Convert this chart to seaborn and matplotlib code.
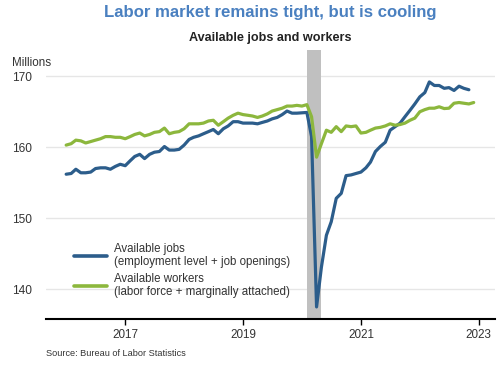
import numpy as np
import pandas as pd
import matplotlib
matplotlib.use("Agg")
import matplotlib.pyplot as plt
import seaborn as sns

# ---- data (millions), monthly Jan 2016 onward ----
start_month = "2016-01-01"
jobs = [156.2, 156.3, 156.9, 156.4, 156.4, 156.5, 157.0, 157.1, 157.1, 156.9, 157.3, 157.6,
        157.4, 158.1, 158.7, 159.0, 158.4, 159.0, 159.3, 159.4, 160.1, 159.6, 159.6, 159.7,
        160.3, 161.1, 161.4, 161.6, 161.9, 162.2, 162.5, 161.9, 162.6, 163.0, 163.6, 163.6,
        163.4, 163.4, 163.4, 163.3, 163.5, 163.7, 164.0, 164.2, 164.6, 165.1, 164.8, 164.8,
        164.85, 164.9, 161.5, 137.5, 143.1, 147.6, 149.5, 152.8, 153.5, 156.0, 156.1, 156.3,
        156.5, 157.1, 157.9, 159.4, 160.1, 160.7, 162.4, 162.9, 163.4, 164.3, 165.2, 166.1,
        167.1, 167.7, 169.2, 168.7, 168.7, 168.3, 168.4, 168.0, 168.6, 168.3, 168.1]
workers = [160.3, 160.5, 161.0, 160.9, 160.6, 160.8, 161.0, 161.2, 161.5, 161.5, 161.4, 161.4,
           161.2, 161.5, 161.8, 162.0, 161.6, 161.8, 162.1, 162.2, 162.7, 161.9, 162.1, 162.2,
           162.6, 163.3, 163.3, 163.3, 163.4, 163.7, 163.8, 163.1, 163.6, 164.1, 164.5, 164.8,
           164.6, 164.5, 164.4, 164.2, 164.4, 164.7, 165.1, 165.3, 165.5, 165.8, 165.8, 165.9,
           165.8, 166.0, 164.3, 158.6, 160.5, 162.4, 162.1, 162.9, 162.2, 163.0, 162.9, 163.0,
           162.0, 162.1, 162.4, 162.7, 162.8, 163.0, 163.3, 163.1, 163.2, 163.4, 163.8, 164.1,
           165.0, 165.3, 165.5, 165.5, 165.7, 165.45, 165.5, 166.2, 166.3, 166.2, 166.1, 166.3]
series_labels = ["Available jobs\n(employment level + job openings)",
                 "Available workers\n(labor force + marginally attached)"]
recession = ("2020-02-01", "2020-05-01")
y_ticks = [140, 150, 160, 170]
x_tick_years = [2017, 2019, 2021, 2023]

dates_jobs = pd.date_range(start_month, periods=len(jobs), freq="MS")
dates_workers = pd.date_range(start_month, periods=len(workers), freq="MS")
df = pd.concat([
    pd.DataFrame({"date": dates_jobs, "value": jobs, "series": series_labels[0]}),
    pd.DataFrame({"date": dates_workers, "value": workers, "series": series_labels[1]}),
], ignore_index=True)

BLUE = "#2c5d8b"
GREEN = "#8cb73d"
TITLE_BLUE = "#4a80c0"

sns.set_theme(style="white")
plt.rcParams["font.family"] = ["Liberation Sans", "DejaVu Sans"]

fig = plt.figure(figsize=(5.0, 3.65), dpi=100)
ax = fig.add_axes([46 / 500, 1 - 319 / 365, (495 - 46) / 500, (319 - 50) / 365])

ax.axvspan(pd.Timestamp(recession[0]), pd.Timestamp(recession[1]),
           color="#c0c0c0", lw=0, zorder=1)

sns.lineplot(data=df, x="date", y="value", hue="series",
             hue_order=series_labels, palette=[BLUE, GREEN],
             linewidth=2.3, legend=False, ax=ax, zorder=3)

ax.set_ylim(135.8, 173.7)
ax.set_xlim(pd.Timestamp("2015-08-29"), pd.Timestamp("2023-04-12"))
ax.set_yticks(y_ticks)
ax.set_xticks([pd.Timestamp(f"{y}-01-01") for y in x_tick_years])
ax.set_xticklabels([str(y) for y in x_tick_years])
ax.set_xlabel("")
ax.set_ylabel("")

ax.grid(axis="y", color="#e6e6e6", linewidth=1.0)
ax.grid(axis="x", visible=False)
for s in ["top", "right", "left"]:
    ax.spines[s].set_visible(False)
ax.spines["bottom"].set_color("#000000")
ax.spines["bottom"].set_linewidth(1.5)
ax.tick_params(axis="x", bottom=True, length=4, width=1, color="#000000",
               labelsize=8.4, labelcolor="#333333", pad=3)
ax.tick_params(axis="y", left=False, length=0, labelsize=8.6, labelcolor="#333333", pad=10)

leg = ax.legend(ax.lines[:2], series_labels, loc="upper left",
                bbox_to_anchor=(74 / 500, 1 - 243 / 365), bbox_transform=fig.transFigure,
                frameon=False, fontsize=8.3, handlelength=2.9, handletextpad=0.6,
                labelspacing=0.5, borderpad=0, borderaxespad=0)
for t in leg.get_texts():
    t.set_color("#333333")
    t.set_linespacing(1.08)
for h in leg.get_lines():
    h.set_linewidth(2.6)

cx = (46 + 495) / 2 / 500
fig.text(cx, 1 - 12 / 365, "Labor market remains tight, but is cooling",
         ha="center", va="center", fontsize=12.1, fontweight="bold", color=TITLE_BLUE)
fig.text(cx, 1 - 38 / 365, "Available jobs and workers",
         ha="center", va="center", fontsize=9.1, fontweight="bold", color="#222222")
fig.text(12 / 500, 1 - 63 / 365, "Millions", ha="left", va="center",
         fontsize=8.4, color="#333333")
fig.text(46 / 500, 1 - 354 / 365, "Source: Bureau of Labor Statistics", ha="left",
         va="center", fontsize=6.6, color="#333333")

fig.savefig("out.png", dpi=100, facecolor="white")
